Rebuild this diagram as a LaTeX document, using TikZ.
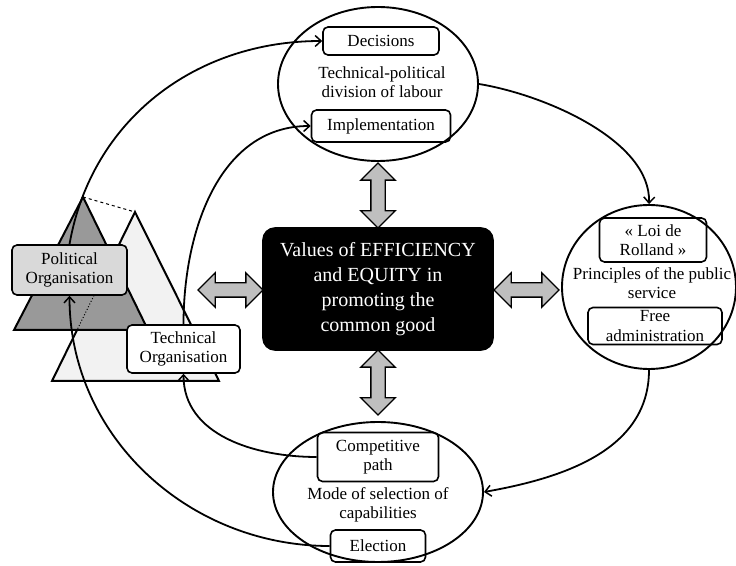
\documentclass[tikz,border=0pt]{standalone}
\usepackage{fontspec}
\setmainfont{Liberation Serif}
\usetikzlibrary{shapes.geometric,shapes.arrows,arrows.meta}

\begin{document}
\begin{tikzpicture}[
    x=1pt, y=1pt,
    every node/.style={align=center, font=\fontsize{17}{19.5}\selectfont},
    ring/.style={ellipse, draw=black, line width=1.9pt, inner sep=0pt},
    box/.style={draw=black, line width=1.6pt, rounded corners=5pt, inner sep=0pt},
    twoway/.style={double arrow, draw=black, line width=1.4pt, fill=black!25, minimum height=65pt, double arrow head extend=10pt, inner xsep=0pt, inner ysep=6.5pt},
    link/.style={line width=1.8pt, -{Straight Barb[length=6pt,width=11pt,line width=1.5pt]}}
]
    \useasboundingbox (0,0) rectangle (736,565);

    \filldraw[fill=black!5, line width=2pt] (135,353) -- (52,184) -- (219,184) -- cycle;
    \filldraw[fill=black!40, line width=2pt] (83,368) -- (14,235) -- (148,235) -- cycle;
    \draw[dashed, line width=1pt] (83,368) -- (135,353);
    \draw[dotted, line width=1pt] (135,353) -- (77,235);

    \node[box, fill=black!15, minimum width=115pt, minimum height=50pt] at (69.5,295) (polit) {Political\\Organisation};
    \node[box, fill=white, minimum width=113pt, minimum height=48pt] at (183.5,216) (techn) {Technical\\Organisation};

    \node[ring, minimum width=200pt, minimum height=154pt] at (378,481) (labour) {};
    \node at (382,483) (labourtxt) {Technical-political\\division of labour};
    \node[box, minimum width=116pt, minimum height=28pt] at (381,524) (decis) {Decisions};
    \node[box, minimum width=139pt, minimum height=32pt] at (381,439) (impl) {Implementation};

    \node[ring, minimum width=174pt, minimum height=164pt] at (649,278) (service) {};
    \node at (652,282) (servicetxt) {Principles of the public\\service};
    \node[box, minimum width=107pt, minimum height=44pt] at (653,325) (rolland) {« Loi de\\Rolland »};
    \node[box, minimum width=134pt, minimum height=37pt] at (655,239) (freeadm) {Free\\administration};

    \node[ring, minimum width=210pt, minimum height=140pt] at (378,73) (selection) {};
    \node at (378,60) (selectiontxt) {Mode of selection of\\capabilities};
    \node[box, minimum width=121pt, minimum height=49pt] at (378,108) (compet) {Competitive\\path};
    \node[box, minimum width=95pt, minimum height=32pt] at (378,19) (elect) {Election};

    \node[box, fill=black, text=white, minimum width=230pt, minimum height=122pt, rounded corners=12pt, font=\fontsize{20}{25}\selectfont] at (378,276) (values) {Values of EFFICIENCY\\and EQUITY in\\promoting the\\common good};

    \node[twoway, rotate=90] at (378,369.5) (toN) {};
    \node[twoway, rotate=90] at (378,182.5) (toS) {};
    \node[twoway] at (230.5,275) (toW) {};
    \node[twoway] at (526.5,275) (toE) {};

    \draw[link] (elect.west) to[out=180, in=-90] (polit.south);
    \draw[link] (compet.west) to[out=180, in=-90] (techn.south);
    \draw[link] (polit.north) to[out=80, in=180] (decis.west);
    \draw[link] (techn.north) to[out=90, in=180] (impl.west);
    \draw[link] (labour.east) .. controls +(67,-11) and +(2,63) .. (service.north);
    \draw[link] (service.south) to[out=-90, in=10] (selection.east);
\end{tikzpicture}
\end{document}
